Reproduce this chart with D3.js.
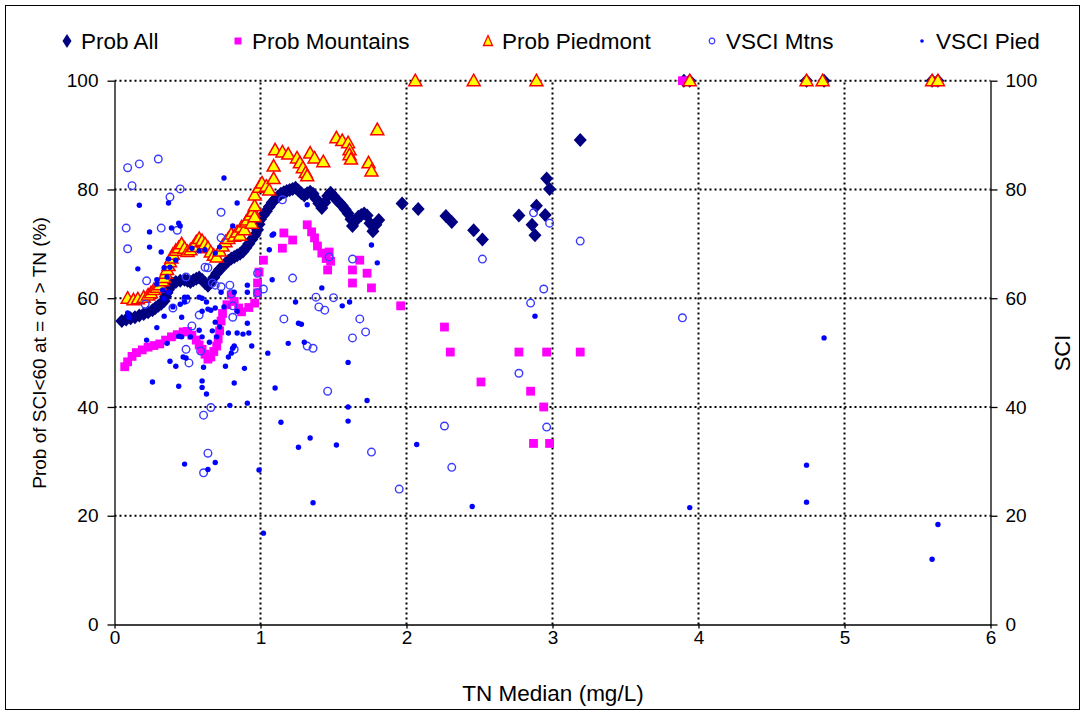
<!DOCTYPE html>
<html>
<head>
<meta charset="utf-8">
<script src="https://cdn.jsdelivr.net/npm/d3@7/dist/d3.min.js"></script>
<style>
  html, body { margin: 0; padding: 0; background: #fff; }
  svg { display: block; font-family: "Liberation Sans", Arial, sans-serif; }
</style>
</head>
<body>
<svg id="chart" width="1085" height="715"></svg>
<script>
// Probability of SCI < 60 at or above a TN median, with site VSCI scores
const xTicks = [0, 1, 2, 3, 4, 5, 6];
const yTicks = [0, 20, 40, 60, 80, 100];

const seriesNames = ["Prob All", "Prob Mountains", "Prob Piedmont", "VSCI Mtns", "VSCI Pied"];

// [TN median (mg/L), probability (%)]
const probAll = [
  [0.05,55.8],[0.08,56.1],[0.11,56.3],[0.14,56.5],[0.17,56.8],[0.2,57.1],[0.23,57.4],[0.26,57.8],
  [0.28,58.2],[0.3,58.6],[0.32,59.0],[0.34,59.5],[0.35,60.3],[0.36,61.0],[0.37,61.6],[0.38,62.2],
  [0.4,62.7],[0.42,63.0],[0.45,63.2],[0.48,63.4],[0.5,63.2],[0.52,63.0],[0.54,63.3],[0.56,63.6],
  [0.58,63.8],[0.6,63.4],[0.62,62.8],[0.64,62.3],[0.66,62.9],[0.68,63.8],[0.7,64.6],[0.72,65.3],
  [0.74,65.8],[0.76,66.4],[0.78,66.9],[0.8,67.3],[0.82,67.6],[0.84,67.9],[0.86,68.2],[0.88,68.6],
  [0.9,69.3],[0.92,70.0],[0.94,70.8],[0.96,71.6],[0.98,72.6],[0.99,73.6],[1.0,74.5],[1.02,75.3],
  [1.04,76.0],[1.06,76.8],[1.08,77.6],[1.1,78.2],[1.12,78.7],[1.14,79.2],[1.16,79.5],[1.18,79.7],
  [1.2,79.9],[1.22,80.1],[1.24,80.3],[1.26,79.8],[1.28,79.3],[1.3,78.9],[1.32,79.3],[1.34,79.6],
  [1.36,79.2],[1.38,78.3],[1.4,77.4],[1.42,76.6],[1.44,77.6],[1.46,78.8],[1.48,79.4],[1.5,78.8],
  [1.52,78.1],[1.54,77.6],[1.56,77.0],[1.58,76.3],[1.6,75.6],[1.62,74.5],[1.63,73.3],[1.65,74.2],
  [1.67,75.0],[1.69,75.3],[1.71,75.6],[1.73,75.2],[1.75,73.8],[1.77,72.3],[1.79,73.5],[1.81,74.4],
  [1.97,77.4],[2.08,76.4],[2.27,75.1],[2.31,74.0],[2.46,72.5],[2.52,70.8],[2.77,75.2],[2.86,73.5],
  [2.88,71.6],[2.89,77.0],[2.95,75.3],[2.96,82.0],[2.98,80.1],[3.19,89.1],
  [3.90,100],[3.94,100],[4.74,100],[4.86,100],[5.60,100],[5.64,100]
];

const probMountains = [
  [0.07,47.4],[0.09,48.3],[0.12,49.3],[0.15,50.0],[0.19,50.5],[0.23,51.0],[0.27,51.3],[0.31,51.6],
  [0.35,52.3],[0.39,52.9],[0.43,53.3],[0.47,53.8],[0.5,53.9],[0.53,53.2],[0.56,52.3],[0.58,51.4],
  [0.6,50.6],[0.62,49.7],[0.64,48.8],[0.66,49.2],[0.68,50.2],[0.7,51.2],[0.71,52.5],[0.72,54.0],
  [0.73,55.8],[0.74,57.2],[0.77,58.8],[0.8,60.6],[0.82,59.4],[0.85,58.2],[0.87,57.5],[0.92,58.3],
  [0.96,59.1],[0.98,61.0],[0.98,62.8],[0.99,64.8],[1.02,67.0],[1.15,69.2],[1.16,72.0],[1.22,70.7],
  [1.32,73.5],[1.35,72.2],[1.37,71.1],[1.39,69.6],[1.42,68.3],[1.45,67.3],[1.47,68.5],[1.48,66.8],
  [1.46,65.2],[1.63,65.2],[1.63,62.8],[1.68,67.0],[1.73,64.6],[1.76,61.9],[1.96,58.6],[2.26,54.7],
  [2.3,50.1],[2.51,44.6],[2.77,50.1],[2.85,42.9],[2.94,40.0],[2.87,33.3],[2.96,50.1],[2.98,33.3],
  [3.19,50.1],[3.89,100]
];

const probPiedmont = [
  [0.09,60.0],[0.13,59.7],[0.16,59.9],[0.2,60.2],[0.23,60.6],[0.25,61.0],[0.27,61.6],[0.29,62.0],
  [0.31,62.5],[0.33,63.2],[0.34,63.8],[0.35,64.6],[0.36,65.3],[0.37,66.0],[0.38,66.7],[0.39,67.4],
  [0.4,68.1],[0.42,68.8],[0.44,69.3],[0.46,70.0],[0.48,69.2],[0.5,68.6],[0.52,68.9],[0.54,69.5],
  [0.56,70.4],[0.58,71.0],[0.6,70.6],[0.62,70.0],[0.64,69.3],[0.66,68.5],[0.68,67.9],[0.7,67.6],
  [0.72,68.7],[0.74,69.6],[0.76,70.4],[0.78,71.0],[0.8,71.8],[0.82,71.4],[0.84,72.2],[0.86,71.6],
  [0.87,73.1],[0.89,72.6],[0.9,74.0],[0.91,74.4],[0.93,75.3],[0.94,73.8],[0.95,76.0],[0.96,75.0],
  [0.96,77.0],[0.96,79.0],[0.99,80.4],[1.01,81.2],[1.04,80.6],[1.06,79.9],[1.09,82.0],[1.09,84.3],
  [1.1,87.3],[1.15,86.9],[1.19,86.5],[1.25,85.8],[1.27,84.9],[1.29,84.0],[1.31,83.1],[1.32,82.5],
  [1.34,86.7],[1.37,85.8],[1.43,85.1],[1.52,89.5],[1.56,89.0],[1.6,88.6],[1.61,87.3],[1.61,86.4],
  [1.62,85.6],[1.74,84.9],[1.76,83.4],[1.8,91.0],
  [2.06,100],[2.46,100],[2.89,100],[3.94,100],[4.74,100],[4.85,100],[5.6,100],[5.64,100]
];

// [TN median (mg/L), VSCI score]
const vsciMtns = [
  [0.08,72.9],[0.09,69.1],[0.09,84.0],[0.12,80.7],[0.17,84.7],[0.21,58.9],[0.22,63.2],[0.3,85.6],
  [0.32,72.9],[0.38,78.6],[0.4,58.2],[0.43,72.5],[0.45,80.1],[0.49,63.9],[0.49,59.7],[0.49,50.6],
  [0.51,48.1],[0.53,54.9],[0.58,56.9],[0.59,50.3],[0.61,38.5],[0.61,27.9],[0.62,65.7],[0.64,31.5],
  [0.64,65.6],[0.66,39.9],[0.67,62.8],[0.69,62.4],[0.73,62.1],[0.73,71.1],[0.73,75.8],[0.79,62.4],
  [0.8,60.8],[0.81,58.6],[0.81,56.5],[0.82,50.6],[0.98,64.6],[0.98,61.0],[1.02,61.7],[1.15,78.1],
  [1.16,56.2],[1.22,63.7],[1.32,51.2],[1.36,50.8],[1.38,60.2],[1.4,58.4],[1.44,57.8],[1.46,42.9],
  [1.47,67.6],[1.5,60.1],[1.63,67.2],[1.63,52.7],[1.68,56.2],[1.72,53.8],[1.76,31.7],[1.95,24.9],
  [2.26,36.5],[2.31,28.9],[2.52,67.2],[2.77,46.2],[2.85,59.1],[2.87,75.7],[2.94,61.7],[2.96,36.3],
  [2.98,73.8],[3.19,70.5],[3.89,56.4]
];

const vsciPied = [
  [0.09,57.3],[0.1,56.5],[0.16,65.4],[0.17,77.1],[0.22,52.3],[0.24,72.2],[0.24,69.4],[0.26,44.6],
  [0.29,63.4],[0.29,62.6],[0.29,54.6],[0.32,68.5],[0.33,61.5],[0.34,65.6],[0.34,59.9],[0.34,56.7],
  [0.36,63.9],[0.36,51.7],[0.37,77.5],[0.37,67.2],[0.37,61.1],[0.38,65.7],[0.38,48.4],[0.39,72.9],
  [0.4,58.4],[0.42,67.0],[0.42,47.5],[0.44,73.8],[0.44,53.0],[0.44,43.8],[0.45,73.3],[0.45,58.9],
  [0.46,56.5],[0.46,52.9],[0.47,49.2],[0.48,60.2],[0.48,59.3],[0.48,29.5],[0.49,49.0],[0.5,60.2],
  [0.52,52.9],[0.53,69.2],[0.58,68.7],[0.58,60.2],[0.58,54.1],[0.6,60.0],[0.6,57.6],[0.6,52.9],
  [0.6,44.8],[0.6,43.6],[0.61,47.3],[0.62,68.9],[0.63,59.3],[0.63,42.4],[0.64,58.0],[0.64,28.5],
  [0.65,51.9],[0.66,57.8],[0.67,54.0],[0.69,68.3],[0.69,58.2],[0.69,55.6],[0.69,29.8],[0.7,52.9],
  [0.72,69.4],[0.72,54.7],[0.73,61.1],[0.75,82.1],[0.75,58.4],[0.76,47.5],[0.78,53.6],[0.78,49.2],
  [0.79,40.3],[0.8,49.9],[0.81,73.3],[0.81,50.8],[0.82,61.1],[0.82,51.2],[0.82,44.4],[0.84,77.5],
  [0.84,57.6],[0.84,53.6],[0.88,53.4],[0.89,47.1],[0.91,62.4],[0.91,61.1],[0.91,55.4],[0.91,40.7],
  [0.92,53.6],[0.94,51.2],[0.99,28.4],[1.02,16.8],[1.05,49.9],[1.06,68.9],[1.08,71.6],[1.08,63.4],
  [1.09,71.8],[1.1,43.5],[1.14,37.2],[1.19,51.7],[1.24,59.3],[1.26,55.4],[1.26,32.6],[1.28,55.2],
  [1.3,51.9],[1.32,77.2],[1.34,34.3],[1.36,22.4],[1.42,61.9],[1.52,33.0],[1.56,58.6],[1.6,48.2],
  [1.6,40.0],[1.6,37.4],[1.61,59.3],[1.73,41.2],[1.76,69.8],[1.8,66.5],[2.07,33.1],[2.45,21.7],
  [2.88,56.7],[3.94,21.5],[4.74,29.3],[4.74,22.5],[4.86,52.7],[5.6,12.0],[5.64,18.4]
];

const svg = d3.select("#chart");

// outer frame
svg.append("rect").attr("x", 5.5).attr("y", 5.5).attr("width", 1074).attr("height", 704)
  .attr("fill", "#fff").attr("stroke", "#000").attr("stroke-width", 1);

const x = d3.scaleLinear().domain([0, 6]).range([114.5, 990.5]);
const yL = d3.scaleLinear().domain([0, 100]).range([624.5, 80.7]);
const yR = d3.scaleLinear().domain([0, 100]).range([624.5, 80.7]);

const grid = svg.append("g").attr("class", "grid");
grid.selectAll("line.h").data(yTicks.filter(d => d > 0)).join("line")
  .attr("x1", x(0)).attr("x2", x(6))
  .attr("y1", d => yL(d)).attr("y2", d => yL(d))
  .attr("stroke", "#000").attr("stroke-width", 2).attr("stroke-dasharray", "2,3");
grid.selectAll("line.v").data(xTicks.filter(d => d > 0 && d < 6)).join("line")
  .attr("x1", d => x(d)).attr("x2", d => x(d))
  .attr("y1", yL(0)).attr("y2", yL(100))
  .attr("stroke", "#000").attr("stroke-width", 2).attr("stroke-dasharray", "2,3");

function styleAxis(g) {
  g.select(".domain").attr("stroke", "#000").attr("stroke-width", 1.3);
  g.selectAll(".tick line").attr("stroke", "#000").attr("stroke-width", 1.3);
  g.selectAll(".tick text").attr("fill", "#000").attr("font-size", 19)
    .attr("font-family", "'Liberation Sans', Arial, sans-serif");
}

svg.append("g").attr("transform", `translate(${x(0)},0)`)
  .call(d3.axisLeft(yL).tickValues(yTicks).tickSize(7).tickSizeOuter(0).tickPadding(9))
  .call(styleAxis);
svg.append("g").attr("transform", `translate(${x(6)},0)`)
  .call(d3.axisRight(yR).tickValues(yTicks).tickSize(7).tickSizeOuter(0).tickPadding(8))
  .call(styleAxis);
svg.append("g").attr("transform", `translate(0,${yL(0)})`)
  .call(d3.axisBottom(x).tickValues(xTicks).tickFormat(d3.format("d")).tickSize(4).tickSizeOuter(0).tickPadding(2))
  .call(styleAxis);

// markers
const diamond = "M0,-7L6.5,0L0,7L-6.5,0Z";
const triangle = "M0,-6.5L6.5,5L-6.5,5Z";

const plot = svg.append("g");
plot.selectAll("path.all").data(probAll).join("path")
  .attr("d", diamond)
  .attr("transform", d => `translate(${x(d[0])},${yL(d[1])})`)
  .attr("fill", "#000080");

plot.selectAll("rect.mtn").data(probMountains).join("rect")
  .attr("x", d => x(d[0]) - 4.4).attr("y", d => yL(d[1]) - 4.4)
  .attr("width", 8.8).attr("height", 8.8)
  .attr("fill", "#ff00ff");

plot.selectAll("path.pied").data(probPiedmont).join("path")
  .attr("d", triangle)
  .attr("transform", d => `translate(${x(d[0])},${yL(d[1])})`)
  .attr("fill", "#ffff00").attr("stroke", "#ff0000").attr("stroke-width", 1.5)
  .attr("stroke-linejoin", "miter");

plot.selectAll("circle.vm").data(vsciMtns).join("circle")
  .attr("cx", d => x(d[0])).attr("cy", d => yR(d[1])).attr("r", 3.8)
  .attr("fill", "none").attr("stroke", "#3a3aff").attr("stroke-width", 1.4);

plot.selectAll("circle.vp").data(vsciPied).join("circle")
  .attr("cx", d => x(d[0])).attr("cy", d => yR(d[1])).attr("r", 2.7)
  .attr("fill", "#0000ff");

// axis titles
svg.append("text").attr("transform", `translate(46,353) rotate(-90)`)
  .attr("text-anchor", "middle").attr("font-size", 19).text("Prob of SCI<60 at = or > TN (%)");
svg.append("text").attr("transform", `translate(1070,353) rotate(-90)`)
  .attr("text-anchor", "middle").attr("font-size", 22).text("SCI");
svg.append("text").attr("x", 553).attr("y", 701)
  .attr("text-anchor", "middle").attr("font-size", 22.5).text("TN Median (mg/L)");

// legend
const legendX = [67, 238, 488, 712, 922];
const lg = svg.append("g");
seriesNames.forEach((name, i) => {
  const g = lg.append("g").attr("transform", `translate(${legendX[i]},41)`);
  if (i === 0) g.append("path").attr("d", "M0,-7L4.5,0L0,7L-4.5,0Z").attr("fill", "#000080");
  if (i === 1) g.append("rect").attr("x", -3.5).attr("y", -3.5).attr("width", 7).attr("height", 7).attr("fill", "#ff00ff");
  if (i === 2) g.append("path").attr("d", "M0,-5.5L4.5,4.5L-4.5,4.5Z").attr("fill", "#ffff00").attr("stroke", "#ff0000").attr("stroke-width", 1.3);
  if (i === 3) g.append("circle").attr("r", 2.8).attr("fill", "none").attr("stroke", "#3a3aff").attr("stroke-width", 1.2);
  if (i === 4) g.append("circle").attr("r", 1.8).attr("fill", "#0000ff");
  g.append("text").attr("x", 14).attr("y", 8).attr("font-size", 22.5).text(name);
});
</script>
</body>
</html>
